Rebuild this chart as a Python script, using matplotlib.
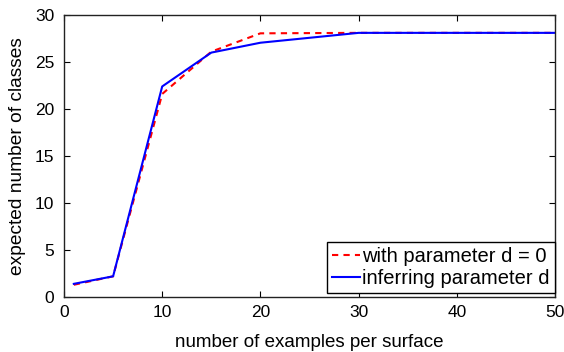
import matplotlib.pyplot as plt
import numpy as np

plt.rcParams['font.family'] = ['Liberation Sans', 'DejaVu Sans']

# examples per surface
n_examples = [1, 5, 10, 15, 20, 30, 50]
# expected number of classes
with_d0 = [1.3, 2.2, 21.6, 26.1, 28.05, 28.1, 28.1]
infer_d = [1.4, 2.2, 22.4, 26.0, 27.05, 28.1, 28.1]

fig = plt.figure(figsize=(5.64, 3.52), dpi=100)
ax = fig.add_axes([64 / 564, 1 - 297 / 352, (555 - 64) / 564, (297 - 15) / 352])

ax.plot(n_examples, with_d0, '--', color='#ff0000', lw=1.5, dashes=(3, 2.5), label='with parameter d = 0')
ax.plot(n_examples, infer_d, '-', color='#0000ff', lw=1.5, label='inferring parameter d')

ax.set_xlim(0, 50)
ax.set_ylim(0, 30)
ax.set_xticks(np.arange(0, 51, 10))
ax.set_yticks(np.arange(0, 31, 5))
ax.tick_params(direction='in', top=True, right=True, labelsize=12.5, length=4, width=0.8)
ax.tick_params(axis='x', pad=6)
ax.tick_params(axis='y', pad=7)
for s in ax.spines.values():
    s.set_linewidth(1.0)
    s.set_color('#222222')

ax.set_xlabel('number of examples per surface', fontsize=13.5, labelpad=10)
ax.set_ylabel('expected number of classes', fontsize=13.8, labelpad=6)

leg = ax.legend(loc='lower right', bbox_to_anchor=(1.0, 4 / 282), fontsize=14.5,
                fancybox=False, framealpha=1, edgecolor='black',
                handlelength=1.4, handletextpad=0.1, borderpad=0.25,
                labelspacing=0.15, borderaxespad=0)
leg.get_frame().set_linewidth(1.0)

fig.savefig('out.png', dpi=100)
